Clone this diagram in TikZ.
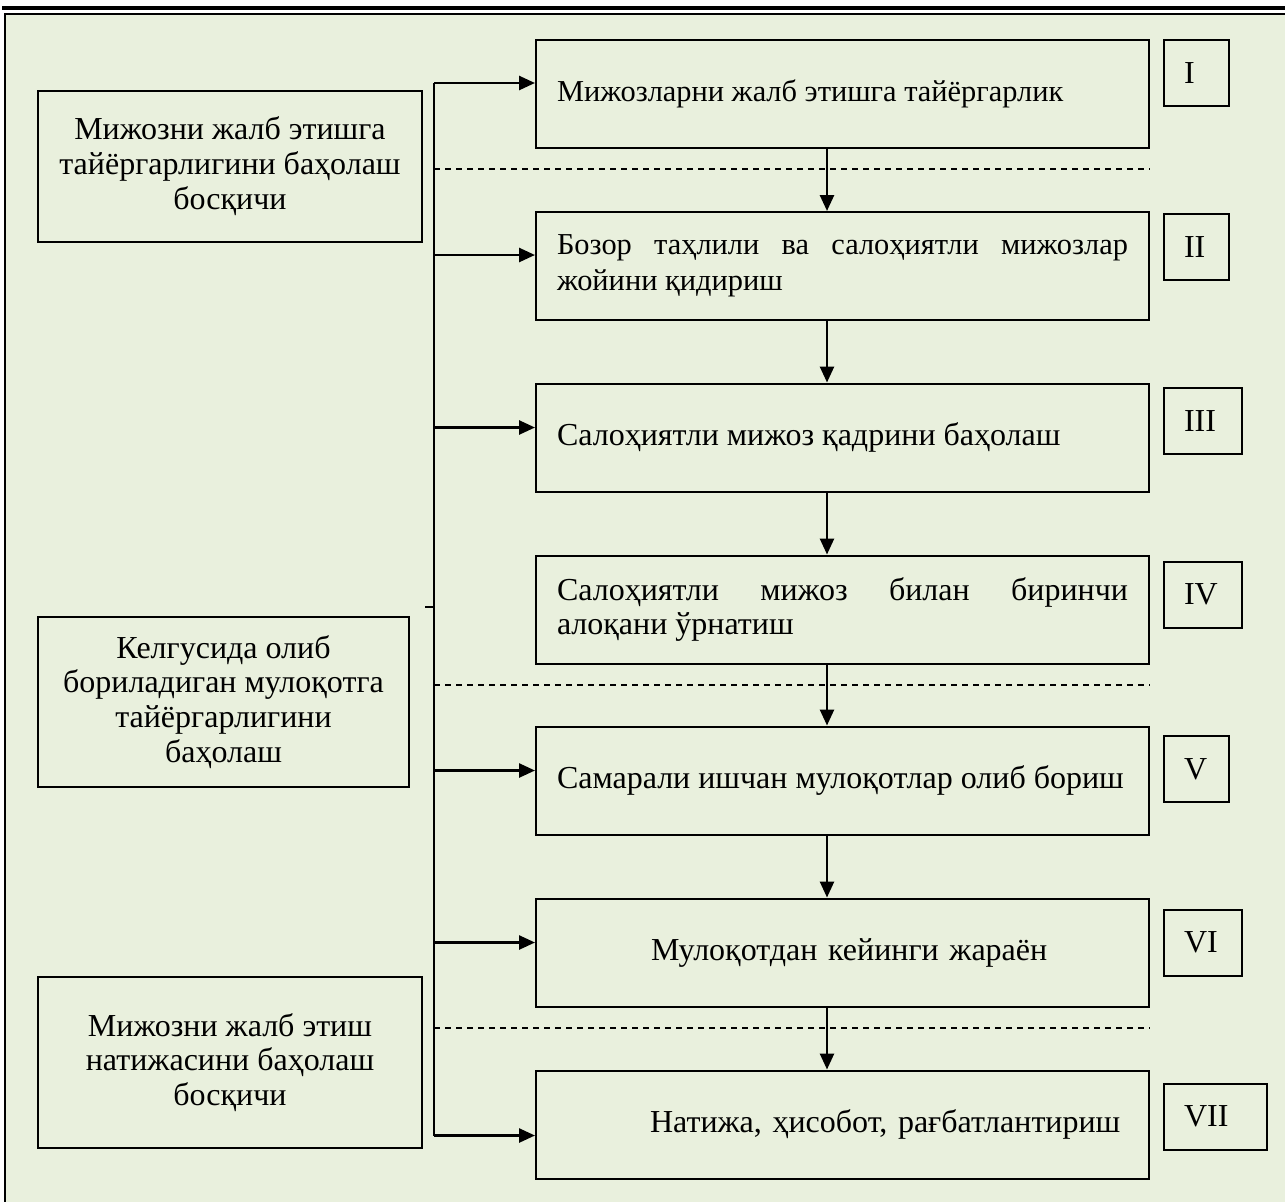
\documentclass[tikz,border=0pt]{standalone}
\usepackage{fontspec}
\setmainfont{Liberation Serif}
\usetikzlibrary{arrows.meta}

\definecolor{panel}{RGB}{233,240,221}

\begin{document}
\begin{tikzpicture}[x=0.5pt, y=-0.5pt, line width=1pt,
    every node/.style={font=\fontsize{16pt}{17.4pt}\selectfont},
    phase/.style={draw, align=center, inner sep=0pt},
    stage/.style={draw, minimum width=306.5pt, minimum height=54pt,
        text width=285.5pt, inner xsep=10.5pt, inner ysep=0pt, align=justify},
    small/.style={font=\fontsize{15.2pt}{17.8pt}\selectfont},
    num/.style={draw, minimum height=33pt, inner xsep=10pt, inner ysep=0pt, align=left},
    feed/.style={-{Triangle[length=8pt,width=7pt]}, line width=1.3pt},
    sep/.style={dashed, dash pattern=on 3pt off 2.5pt, line width=0.6pt}]
     \useasboundingbox (0,0) rectangle (1285,1201);
     \draw[fill=panel] (5,14) rectangle (1300,1220);
     \draw[line width=1.6pt] (2,8) -- (1285,8);

     % left column: phases
     \node (p1) at (230,166) [phase, minimum width=192pt, minimum height=75.5pt]
        {Мижозни жалб этишга\\ тайёргарлигини баҳолаш\\ босқичи};
     \node (p2) at (223.5,702) [phase, minimum width=185.5pt, minimum height=85pt]
        {Келгусида олиб\\ бориладиган мулоқотга\\ тайёргарлигини\\ баҳолаш};
     \node (p3) at (230,1062.5) [phase, minimum width=192pt, minimum height=85.5pt]
        {Мижозни жалб этиш\\ натижасини баҳолаш\\ босқичи};

     % right column: stages
     \node (s1) at (842.5,94) [stage, small] {Мижозларни жалб этишга тайёргарлик};
     \node (s2) at (842.5,266) [stage, small] {Бозор таҳлили ва салоҳиятли мижозлар\linebreak жойини қидириш};
     \node (s3) at (842.5,437.5) [stage] {Салоҳиятли мижоз қадрини баҳолаш};
     \node (s4) at (842.5,609.5) [stage] {Салоҳиятли мижоз билан биринчи\linebreak алоқани ўрнатиш};
     \node (s5) at (842.5,780.5) [stage] {Самарали ишчан мулоқотлар олиб бориш};
     \node (s6) at (842.5,952.5) [stage, align=left]
        {\hspace*{47pt}\makebox[197pt][s]{Мулоқотдан кейинги жараён}};
     \node (s7) at (842.5,1124.5) [stage, align=left]
        {\hspace*{46.5pt}\makebox[235pt][s]{Натижа, ҳисобот, рағбатлантириш}};

     % stage numbers
     \node (n1) at (1163,73) [num, anchor=west, text width=12.5pt] {I};
     \node (n2) at (1163,247) [num, anchor=west, text width=12.5pt] {II};
     \node (n3) at (1163,421) [num, anchor=west, text width=19pt] {III};
     \node (n4) at (1163,594.5) [num, anchor=west, text width=19pt] {IV};
     \node (n5) at (1163,769) [num, anchor=west, text width=12.5pt] {V};
     \node (n6) at (1163,942.5) [num, anchor=west, text width=19pt] {VI};
     \node (n7) at (1163,1116.5) [num, anchor=west, text width=31.5pt] {VII};

     % bus
     \coordinate (bus) at (434,0);
     \coordinate (stub) at (425,607);
     \coordinate (down) at (827,0);
     \draw[line width=1.3pt] ([yshift=5.5pt]s1.west -| bus) -- ([yshift=-5.5pt]s7.west -| bus);
     \draw[line width=1.3pt] (stub) -- (stub -| bus);

     \draw[feed] ([yshift=5.5pt]s1.west -| bus) -- ([yshift=5.5pt]s1.west);
     \draw[feed] ([yshift=5.5pt]s2.west -| bus) -- ([yshift=5.5pt]s2.west);
     \draw[feed] ([yshift=5pt]s3.west -| bus) -- ([yshift=5pt]s3.west);
     \draw[feed] ([yshift=5pt]s5.west -| bus) -- ([yshift=5pt]s5.west);
     \draw[feed] ([yshift=5pt]s6.west -| bus) -- ([yshift=5pt]s6.west);
     \draw[feed] ([yshift=-5.5pt]s7.west -| bus) -- ([yshift=-5.5pt]s7.west);

     % flow between stages
     \foreach \a/\b in {s1/s2,s2/s3,s3/s4,s4/s5,s5/s6,s6/s7}
        \draw[feed] (\a.south -| down) -- (\b.north -| down);

     % phase borders
     \coordinate (b1) at (0,169);
     \coordinate (b2) at (0,685);
     \coordinate (b3) at (0,1028);
     \draw[sep] (b1 -| bus) -- (b1 -| s1.east);
     \draw[sep] (b2 -| bus) -- (b2 -| s1.east);
     \draw[sep] (b3 -| bus) -- (b3 -| s1.east);
\end{tikzpicture}
\end{document}
